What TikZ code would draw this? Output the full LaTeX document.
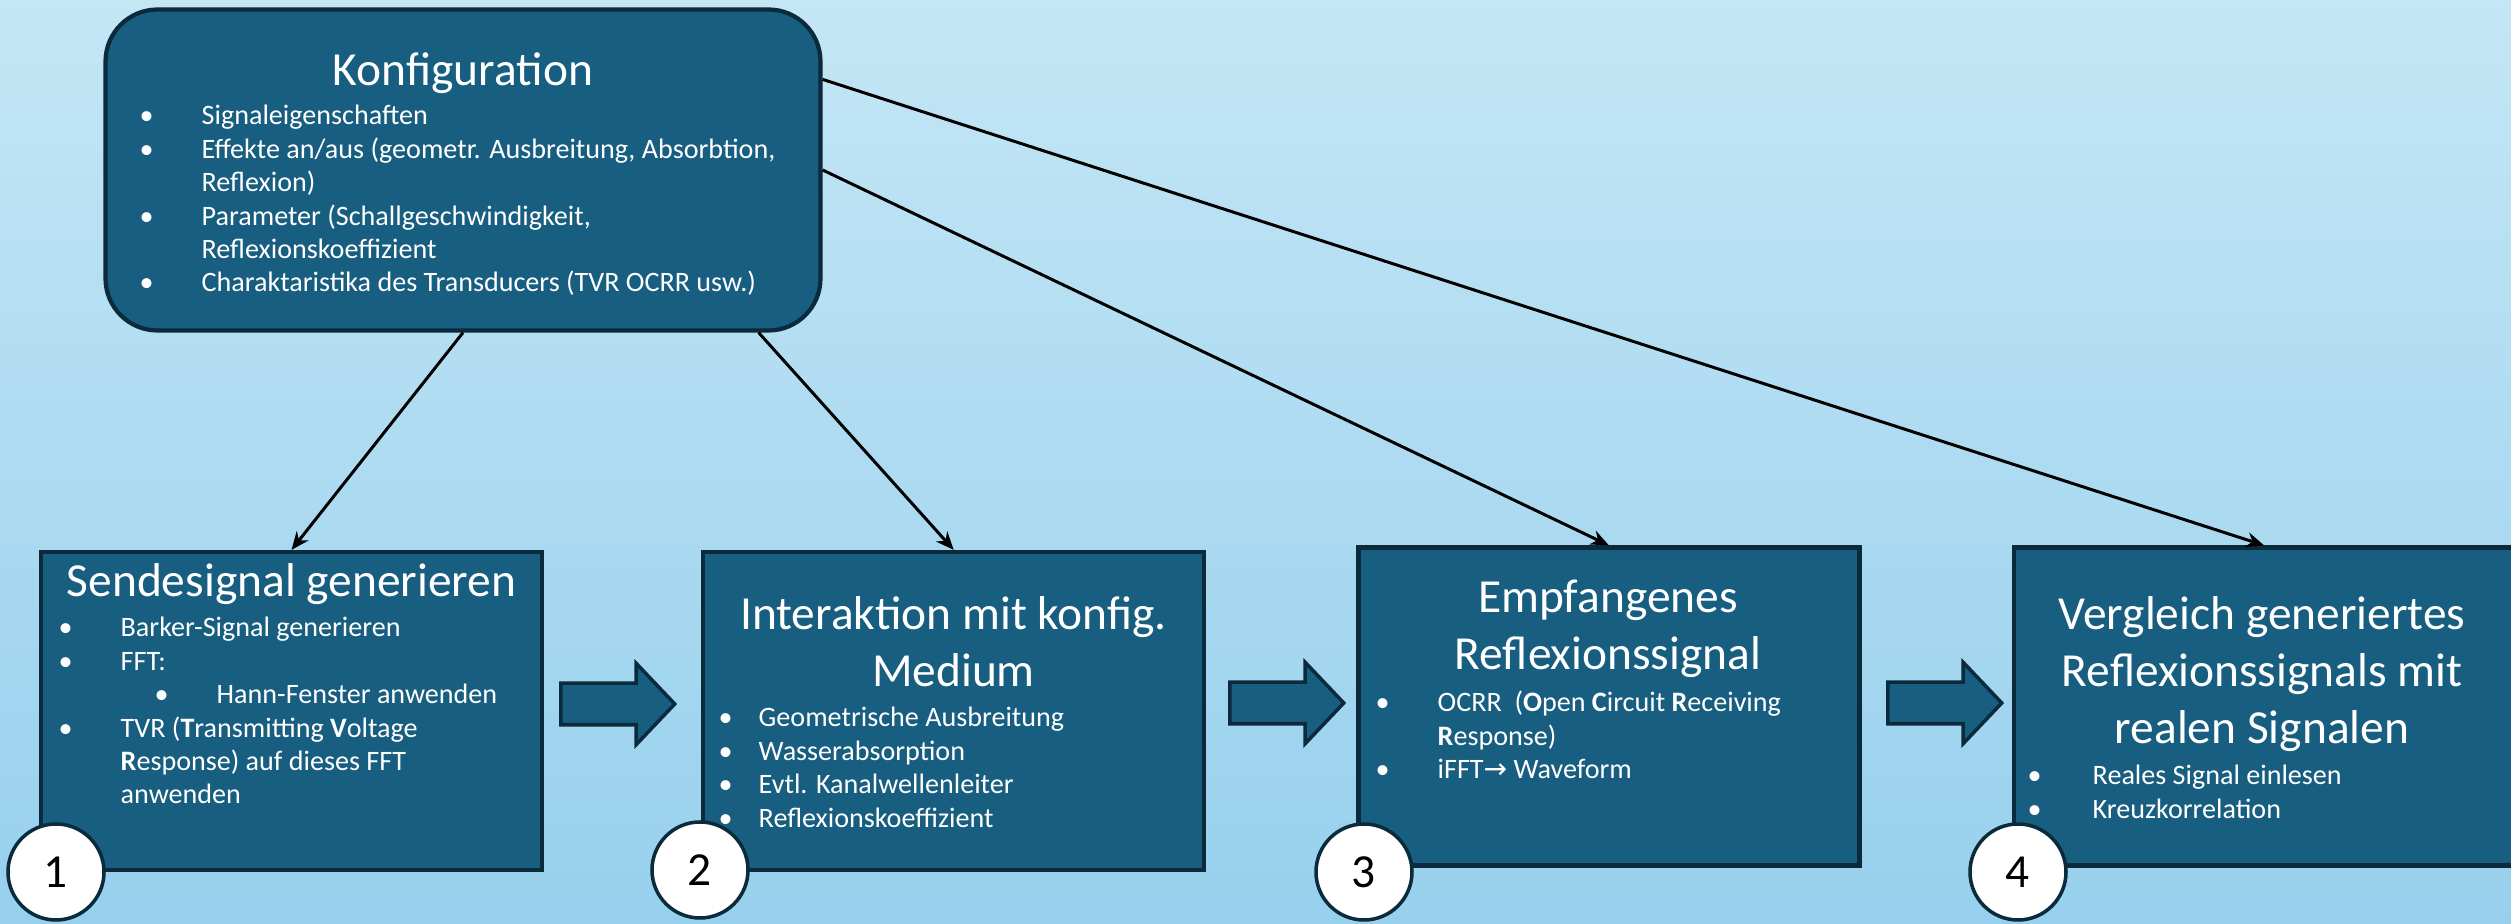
\documentclass[tikz,border=0pt]{standalone}
\usepackage{fontspec}
\setmainfont{Carlito}
\newfontfamily\arrowfont{DejaVu Sans}
\usetikzlibrary{positioning,arrows.meta,shapes.arrows}
\definecolor{bgtop}{HTML}{C4E6F5}
\definecolor{bgbot}{HTML}{97D0ED}
\definecolor{boxblue}{HTML}{175E80}
\definecolor{boxedge}{HTML}{0B2A3B}
\tikzset{stepbox/.style={rectangle,draw=boxedge,fill=boxblue,line width=1.2pt,inner sep=0pt,minimum width=50.1mm,minimum height=31.8mm},
	 cfgbox/.style={stepbox,rounded corners=5.2mm,minimum width=71.5mm,minimum height=32.1mm},
	 headtxt/.style={text=white,inner sep=0pt,anchor=base,font=\fontsize{13.5}{16.2}\selectfont},
	 itemtxt/.style={text=white,inner sep=0pt,anchor=base west,font=\fontsize{8}{9.5}\selectfont},
	 stepnum/.style={circle,draw=boxedge,fill=white,line width=1pt,inner sep=0pt,minimum size=9.6mm,font=\fontsize{13.5}{16}\selectfont},
	 flow/.style={single arrow,draw=boxedge,fill=boxblue,line width=1pt,inner xsep=0pt,inner ysep=1.9mm,minimum width=7.8mm,minimum height=11.4mm,single arrow head extend=2mm,single arrow tip angle=93,anchor=tail},
	 conn/.style={line width=0.85pt,-{Stealth[length=1.8mm,width=1.5mm]}},
	 node distance = 15mm
	 }
\newcommand{\txtrows}[2][l]{\begin{tabular}[t]{@{}#1@{}}#2\end{tabular}}
\newcommand{\bul}[2][6.2mm]{\makebox[#1][l]{\textbullet}#2}
\newcommand{\bulcont}[2][6.2mm]{\hspace*{#1}#2}

\begin{document}
\begin{tikzpicture}[x=0.1mm,y=-0.1mm] % Ablauf der Signalsimulation
	\useasboundingbox (0,0) rectangle (2511,924);
	\fill[top color=bgtop,bottom color=bgbot] (0,0) rectangle (2511,924);
	% Boxen
	\node[cfgbox] (cfg) at (463,170) {};
	\node[stepbox] (s1) at (291.5,711) {};
	\node[stepbox] (s2) [right=15.7mm of s1] {};
	\node[stepbox] (s3) [right=of s2,yshift=0.45mm] {};
	\node[stepbox] (s4) [right=of s3] {};
	% Pfeile zwischen den Schritten
	\node[flow] (f1) at (559,704) {};
	\node[flow] (f2) at (1228,703) {};
	\node[flow] (f3) at (1886,703) {};
	% Konfiguration
	\node[headtxt] (t0) at (463,86) {Konfiguration};
	\node[itemtxt] (k0) at (139,125) {\txtrows{%
		\bul{Signaleigenschaften}\\
		\bul{Effekte an/aus (geometr. Ausbreitung, Absorbtion,}\\
		\bulcont{Reflexion)}\\
		\bul{Parameter (Schallgeschwindigkeit,}\\
		\bulcont{Reflexionskoeffizient}\\
		\bul{Charaktaristika des Transducers (TVR OCRR usw.)}}};
	% Schritt 1
	\node[headtxt] (t1) at (291.5,597) {Sendesignal generieren};
	\node[itemtxt] (k1) at (58,637) {\txtrows{%
		\bul{Barker-Signal generieren}\\
		\bul{FFT:}\\
		\hspace*{9.6mm}\bul{Hann-Fenster anwenden}\\
		\bul{TVR (\textbf{T}ransmitting \textbf{V}oltage}\\
		\bulcont{\textbf{R}esponse) auf dieses FFT}\\
		\bulcont{anwenden}}};
	% Schritt 2
	\node[headtxt] (t2) at (953.5,630) {\txtrows[c]{Interaktion mit konfig.\\Medium}};
	\node[itemtxt] (k2) at (718,727) {\txtrows{%
		\bul[4mm]{Geometrische Ausbreitung}\\
		\bul[4mm]{Wasserabsorption}\\
		\bul[4mm]{Evtl. Kanalwellenleiter}\\
		\bul[4mm]{Reflexionskoeffizient}}};
	% Schritt 3
	\node[headtxt] (t3) at (1608,613) {\txtrows[c]{Empfangenes\\Reflexionssignal}};
	\node[itemtxt] (k3) at (1375,712) {\txtrows{%
		\bul{OCRR~~(\textbf{O}pen \textbf{C}ircuit \textbf{R}eceiving}\\
		\bulcont{\textbf{R}esponse)}\\
		\bul{iFFT{\arrowfont →} Waveform}}};
	% Schritt 4
	\node[headtxt] (t4) at (2262,630) {\txtrows[c]{Vergleich generiertes\\Reflexionssignals mit\\realen Signalen}};
	\node[itemtxt] (k4) at (2027,785) {\txtrows{%
		\bul[6.5mm]{Reales Signal einlesen}\\
		\bul[6.5mm]{Kreuzkorrelation}}};
	% Nummern
	\node[stepnum] (n1) at (56,872) {1};
	\node[stepnum] (n2) at (700,870) {2};
	\node[stepnum] (n3) at (1364,872) {3};
	\node[stepnum] (n4) at (2018,872) {4};
	% Verbindungen
	\draw[conn] (cfg.south) -- (s1.north);
	\draw[conn] ([xshift=-6.4mm]cfg.south east) -- (s2.north);
	\draw[conn] (cfg.east) -- (s3.north);
	\draw[conn] ([yshift=-7.2mm]cfg.north east) -- (s4.north);
\end{tikzpicture}
\end{document}
